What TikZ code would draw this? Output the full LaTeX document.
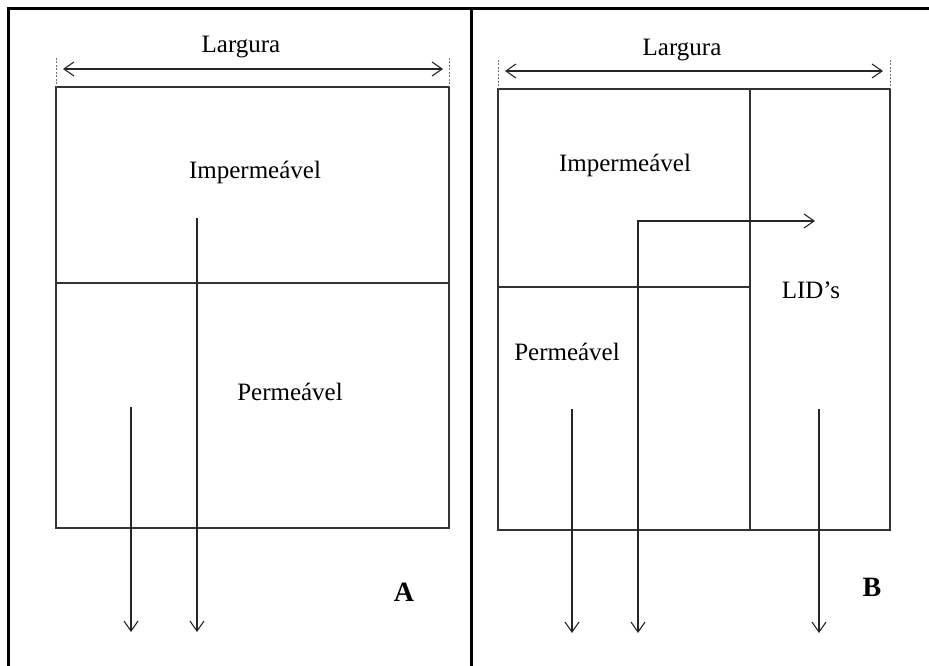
\documentclass[tikz,border=0pt]{standalone}
\usepackage{fontspec}
\setmainfont{Liberation Serif}
\usetikzlibrary{arrows.meta,positioning}

\begin{document}
\begin{tikzpicture}
    [x=1pt, y=-1pt,
      frame/.style={line width=3pt, black},
      wall/.style={draw=black!80, line width=1.2pt},
      tick/.style={draw=black!55, line width=0.8pt, dash pattern=on 2pt off 1.5pt},
      darc/.style={-{Straight Barb[length=10pt,width=14pt]}, line width=1.1pt, black!85},
      barc/.style={{Straight Barb[length=10pt,width=14pt]}-{Straight Barb[length=10pt,width=14pt]}, line width=1.1pt, black!85},
      lbl/.style={font=\fontsize{25}{29}\selectfont, inner sep=0pt},
      tag/.style={font=\fontsize{28}{32}\selectfont\bfseries, inner sep=0pt}]

    \useasboundingbox (0,0) rectangle (929,666);

    % outer frame
    \draw[frame] (8,666) -- (8,9) -- (929,9);
    \draw[frame] (471,9) -- (471,666);

    % panel A
    \coordinate (a-nw) at (56,87);
    \coordinate (a-ne) at (449,87);
    \coordinate (a-se) at (449,528);
    \coordinate (a-w) at (56,283);
    \coordinate (a-e) at (449,283);
    \draw[wall] (a-nw) rectangle (a-se);
    \draw[wall] (a-w) -- (a-e);
    \coordinate (a-t1) at (56,58);
    \coordinate (a-t2) at (449,58);
    \draw[tick] (a-t1) -- (a-nw);
    \draw[tick] (a-t2) -- (a-ne);
    \coordinate (a-l) at (63,69);
    \coordinate (a-r) at (443,69);
    \draw[barc] (a-l) -- (a-r);
    \node (a-width) at (241,47) [lbl] {Largura};
    \node (a-imp) at (255,172) [lbl] {Impermeável};
    \node (a-perm) at (290,392) [lbl] {Permeável};
    \coordinate (a-in1) at (197,218);
    \coordinate (a-out1) at (197,632);
    \coordinate (a-in2) at (131,407);
    \coordinate (a-out2) at (131,632);
    \draw[darc] (a-in1) -- (a-out1);
    \draw[darc] (a-in2) -- (a-out2);
    \node (a-tag) at (404,592) [tag] {A};

    % panel B
    \coordinate (b-nw) at (498,89);
    \coordinate (b-ne) at (890,89);
    \coordinate (b-se) at (890,530);
    \coordinate (b-n) at (750,89);
    \coordinate (b-s) at (750,530);
    \coordinate (b-w) at (498,287);
    \coordinate (b-e) at (750,287);
    \draw[wall] (b-nw) rectangle (b-se);
    \draw[wall] (b-n) -- (b-s);
    \draw[wall] (b-w) -- (b-e);
    \coordinate (b-t1) at (498,60);
    \coordinate (b-t2) at (890,60);
    \draw[tick] (b-t1) -- (b-nw);
    \draw[tick] (b-t2) -- (b-ne);
    \coordinate (b-l) at (505,71);
    \coordinate (b-r) at (883,71);
    \draw[barc] (b-l) -- (b-r);
    \node (b-width) at (682,50) [lbl] {Largura};
    \node (b-imp) at (625,165) [lbl] {Impermeável};
    \node (b-perm) at (567,352) [lbl] {Permeável};
    \node (b-lid) at (811,290) [lbl] {LID’s};
    \coordinate (b-in1) at (572,409);
    \coordinate (b-out1) at (572,633);
    \coordinate (b-in3) at (819,409);
    \coordinate (b-out3) at (819,633);
    \coordinate (b-out2) at (638,633);
    \coordinate (b-run) at (815,221);
    \draw[darc] (b-in1) -- (b-out1);
    \draw[darc] (b-in3) -- (b-out3);
    \draw[barc] (b-out2) |- (b-run);
    \node (b-tag) at (872,587) [tag] {B};
\end{tikzpicture}
\end{document}
